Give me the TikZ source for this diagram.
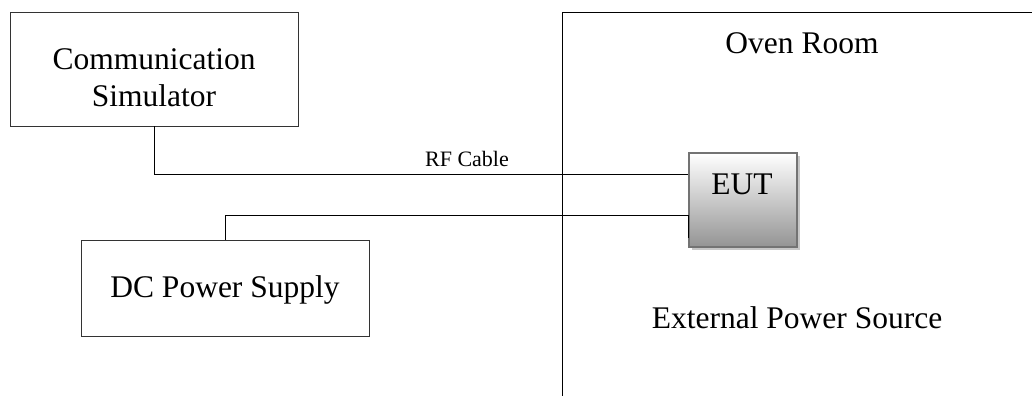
\documentclass[tikz,border=0pt]{standalone}
\usepackage{fontspec}
\setmainfont{Liberation Serif}
\usetikzlibrary{shadings}
\begin{document}
\begin{tikzpicture}[x=1pt,y=-1pt,
  boxstyle/.style={draw=black!80,line width=0.9pt,rectangle,inner sep=0pt},
  bigtext/.style={font=\fontsize{31.5}{36}\selectfont,inner sep=0pt,anchor=base},
  smalltext/.style={font=\fontsize{22}{26}\selectfont,inner sep=0pt,anchor=base},
  wire/.style={draw=black,line width=0.9pt}]
\useasboundingbox (0,0) rectangle (1032,396);
% oven room frame
\draw[line width=0.9pt] (1032,12) -| (562,396);
\node[bigtext] (oven) at (802,53) {Oven Room};
\node[bigtext] (ext) at (797,328) {External Power Source};
% communication simulator
\node[boxstyle,minimum width=288pt,minimum height=114pt] (comm) at (154,69) {};
\node[bigtext] (commA) at (154,70) {Communication};
\node[bigtext] (commB) at (154,106) {Simulator};
% DC power supply
\node[boxstyle,minimum width=288pt,minimum height=96pt] (dc) at (225,288) {};
\node[bigtext] (dct) at (225,297) {DC Power Supply};
% EUT with shadow
\fill[black!22] (692,156) rectangle (800,250);
\node[draw=black!55,line width=1.2pt,top color=white,bottom color=black!42,
  minimum width=108pt,minimum height=94pt,inner sep=0pt] (eut) at (743,200) {};
\node[bigtext] (eutt) at (742,194) {EUT};
% connectors
\draw[wire] (comm.south) |- ([yshift=26pt]eut.west);
\node[smalltext] (rf) at (467,166) {RF Cable};
\draw[wire] (dc.north) |- ([yshift=-15pt]eut.west);
\draw[line width=1.6pt] ([yshift=-15pt]eut.west) -- ([yshift=-38pt]eut.west);
\end{tikzpicture}
\end{document}
